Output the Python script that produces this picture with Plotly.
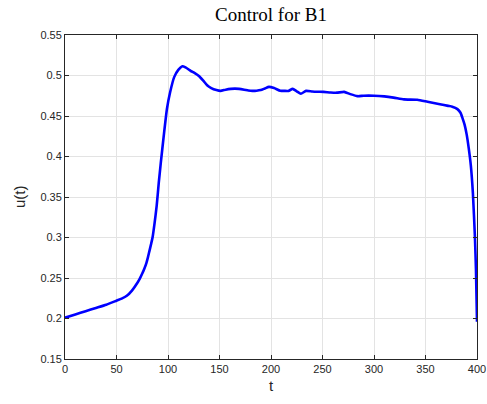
import plotly.graph_objects as go

# Data
t = [0, 10, 20, 30, 40, 50, 55, 60, 65, 70, 72.5, 75, 77, 79, 80.5, 82, 83.5, 85, 87,
     89, 91, 93, 96, 99,
     102, 106, 110, 114, 117, 122, 126, 130, 134, 138, 142, 147, 151, 156, 161, 165,
     169, 174, 178, 182, 186, 190, 194, 198, 203, 209, 213, 217, 221, 225, 229, 234,
     240, 245, 251, 258, 264, 271, 277, 284, 290, 300, 310, 319, 329, 342, 352, 364,
     372, 376, 381, 384, 386, 388, 390, 392, 394, 396, 398, 399, 400]
u = [0.201, 0.205, 0.209, 0.213, 0.217, 0.222, 0.2245, 0.228, 0.2345, 0.2435, 0.249,
     0.2555, 0.2615, 0.2685, 0.2755, 0.2835, 0.2915, 0.300, 0.318, 0.339, 0.367, 0.392,
     0.427, 0.459,
     0.479, 0.498, 0.507, 0.5115, 0.510, 0.5058, 0.503, 0.4995, 0.494, 0.488, 0.4845,
     0.482, 0.481, 0.4825, 0.4835, 0.4838, 0.4835, 0.4825, 0.4815, 0.481, 0.4812,
     0.482, 0.484, 0.486, 0.4845, 0.4812, 0.481, 0.481, 0.4835, 0.4805, 0.4775, 0.481,
     0.4803, 0.480, 0.4798, 0.479, 0.4788, 0.4798, 0.477, 0.4745, 0.475, 0.475, 0.4742,
     0.4727, 0.4705, 0.470, 0.4675, 0.4645, 0.4625, 0.4615, 0.4585, 0.454, 0.447,
     0.439, 0.427, 0.410, 0.389, 0.355, 0.300, 0.260, 0.196]

x_ticks = [0, 50, 100, 150, 200, 250, 300, 350, 400]
y_ticks = [0.15, 0.2, 0.25, 0.3, 0.35, 0.4, 0.45, 0.5, 0.55]
y_tick_text = ["0.15", "0.2", "0.25", "0.3", "0.35", "0.4", "0.45", "0.5", "0.55"]

title_text = "Control for B1"
x_label = "t"
y_label = "u(t)"

fig = go.Figure()
fig.add_trace(go.Scatter(x=t, y=u, mode="lines",
                         line=dict(color="#0000ff", width=2.6, shape="spline",
                                   smoothing=0.5),
                         hoverinfo="skip", showlegend=False))

axis_common = dict(
    showline=True, linecolor="#262626", linewidth=1,
    mirror="ticks", ticks="inside", ticklen=4, tickwidth=1, tickcolor="#262626",
    showgrid=True, gridcolor="#e3e3e3", gridwidth=1,
    zeroline=False, automargin=False,
    tickfont=dict(family="Liberation Sans, Arial, sans-serif", size=11, color="#262626"),
)

fig.update_xaxes(range=[0, 400], tickvals=x_ticks,
                 ticktext=[str(v) for v in x_ticks], **axis_common)
fig.update_yaxes(range=[0.15, 0.55], tickvals=y_ticks, ticktext=y_tick_text,
                 **axis_common)

fig.update_layout(
    width=487, height=404,
    margin=dict(l=64.5, r=10.3, t=35, b=45, pad=0, autoexpand=False),
    plot_bgcolor="white", paper_bgcolor="white",
    annotations=[
        dict(text=title_text, xref="paper", yref="paper", x=0.5, y=1,
             yshift=21, xanchor="center", yanchor="middle", showarrow=False,
             font=dict(family="Liberation Serif, Times New Roman, serif", size=19,
                       color="black")),
        dict(text=x_label, xref="paper", yref="paper", x=0.5, y=0,
             yshift=-26, xanchor="center", yanchor="middle", showarrow=False,
             font=dict(family="Liberation Sans, Arial, sans-serif", size=15,
                       color="#262626")),
        dict(text=y_label, xref="paper", yref="paper", x=0, y=0.5,
             xshift=-46, xanchor="center", yanchor="middle", textangle=-90,
             showarrow=False,
             font=dict(family="Liberation Sans, Arial, sans-serif", size=15,
                       color="#262626")),
    ],
)

fig.write_html("out.html")
